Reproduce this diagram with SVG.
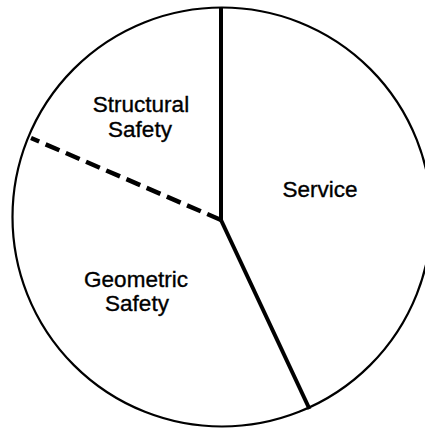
<svg xmlns="http://www.w3.org/2000/svg" width="425" height="429" viewBox="0 0 425 429">
<style>
.outline{fill:none;stroke:#000;stroke-width:2.2}
.div{fill:none;stroke:#000;stroke-width:4;stroke-linecap:butt}
.dash{stroke-width:4.5;stroke-dasharray:15 7}
.lbl{font-family:"Liberation Sans",Arial,sans-serif;font-size:22.5px;fill:#000;stroke:#000;stroke-width:0.35;text-anchor:middle}
</style>
<rect width="425" height="429" fill="#fff"/>
<g id="pie">
<circle class="outline" cx="222" cy="217" r="209.5"/>
</g>
<g id="connectors">
<line class="div" x1="221" y1="8" x2="221" y2="220"/>
<line class="div" x1="221" y1="220" x2="309.5" y2="409"/>
<line class="div dash" x1="221" y1="220" x2="31" y2="138"/>
</g>
<g id="structural-safety">
<text class="lbl" x="141" y="112">Structural</text>
<text class="lbl" x="140" y="137">Safety</text>
</g>
<g id="service">
<text class="lbl" x="320" y="197">Service</text>
</g>
<g id="geometric-safety">
<text class="lbl" x="136" y="287">Geometric</text>
<text class="lbl" x="137" y="311">Safety</text>
</g>
</svg>
